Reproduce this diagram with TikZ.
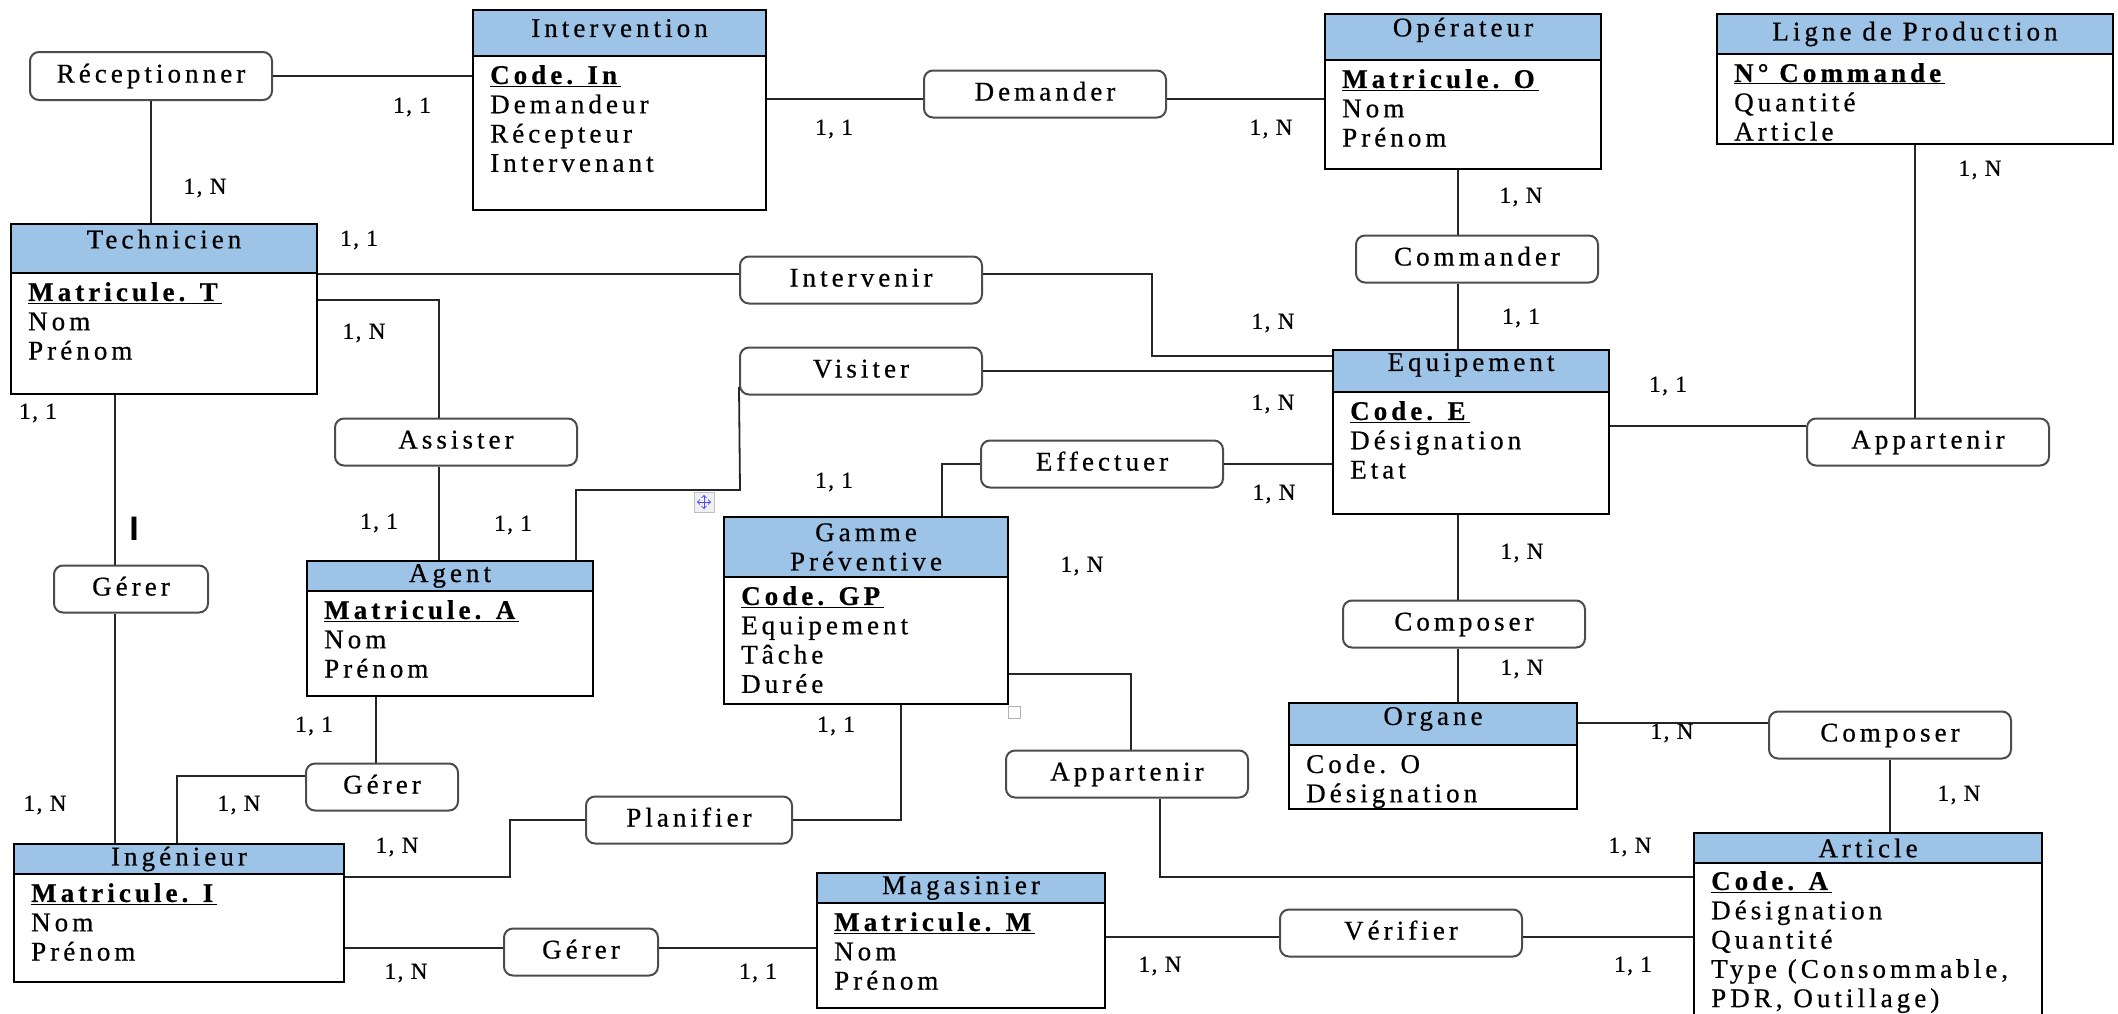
\documentclass[tikz,border=0pt]{standalone}
\usepackage{fontspec}
\setmainfont{Liberation Serif}[LetterSpace=15, FakeBold=0.6]
\newfontfamily\cardface{Liberation Serif}[LetterSpace=7, FakeBold=0.6]
\newfontfamily\marksans{Liberation Sans}
\usepackage{tikz}
\definecolor{headblue}{RGB}{157,195,230}
\newcommand{\ident}[1]{\underline{\textbf{#1}}}
\newcommand{\bodyfont}{\fontsize{27}{29.3}\selectfont}
\newcommand{\cardfont}{\cardface\fontsize{23}{25}\selectfont}
\tikzstyle{ent} = [draw, line width=2pt, anchor=north west, inner sep=0pt]
\tikzstyle{head} = [draw, line width=2pt, fill=headblue, anchor=north west, inner sep=0pt, align=center]
\tikzstyle{attr} = [anchor=north west, inner sep=0pt, align=left]
\tikzstyle{rel} = [draw=black!70, line width=2pt, rounded corners=9pt, fill=white, minimum width=242pt, minimum height=47pt, inner sep=0pt, text height=18pt, text depth=5pt]
\tikzstyle{card} = [font=\cardfont, inner sep=0pt]
\tikzstyle{link} = [line width=1.8pt, black!85]

\begin{document}
\begin{tikzpicture}[x=1pt, y=-1pt, font=\bodyfont]
	  \useasboundingbox (0,0) rectangle (2118,1013);
	  \fill[white] (0,0) rectangle (2118,1013);

	  \node[ent, minimum width=293pt, minimum height=200pt] (inter) at (472,9) {};
	  \node[head, minimum width=293pt, minimum height=46pt, text depth=10pt] (inter-h) at (inter.north west) {Intervention};
	  \node[attr] (inter-a) at ([xshift=18pt,yshift=-8pt]inter-h.south west) {\ident{Code. In}\\Demandeur\\Récepteur\\Intervenant};

	  \node[ent, minimum width=276pt, minimum height=155pt] (oper) at (1324,13) {};
	  \node[head, minimum width=276pt, minimum height=46pt, text depth=20pt] (oper-h) at (oper.north west) {Opérateur};
	  \node[attr] (oper-a) at ([xshift=18pt,yshift=-8pt]oper-h.south west) {\ident{Matricule. O}\\Nom\\Prénom};

	  \node[ent, minimum width=396pt, minimum height=130pt] (ligne) at (1716,13) {};
	  \node[head, minimum width=396pt, minimum height=40pt] (ligne-h) at (ligne.north west) {Ligne de Production};
	  \node[attr] (ligne-a) at ([xshift=18pt,yshift=-8pt]ligne-h.south west) {\ident{N° Commande}\\Quantité\\Article};

	  \node[ent, minimum width=306pt, minimum height=170pt] (techn) at (10,223) {};
	  \node[head, minimum width=306pt, minimum height=49pt, text depth=19pt] (techn-h) at (techn.north west) {Technicien};
	  \node[attr] (techn-a) at ([xshift=18pt,yshift=-8pt]techn-h.south west) {\ident{Matricule. T}\\Nom\\Prénom};

	  \node[ent, minimum width=276pt, minimum height=164pt] (equip) at (1332,349) {};
	  \node[head, minimum width=276pt, minimum height=42pt, text depth=18pt] (equip-h) at (equip.north west) {Equipement};
	  \node[attr] (equip-a) at ([xshift=18pt,yshift=-8pt]equip-h.south west) {\ident{Code. E}\\Désignation\\Etat};

	  \node[ent, minimum width=284pt, minimum height=187pt] (gamme) at (723,516) {};
	  \node[head, minimum width=284pt, minimum height=60pt] (gamme-h) at (gamme.north west) {Gamme\\Préventive};
	  \node[attr] (gamme-a) at ([xshift=18pt,yshift=-8pt]gamme-h.south west) {\ident{Code. GP}\\Equipement\\Tâche\\Durée};

	  \node[ent, minimum width=286pt, minimum height=135pt] (agent) at (306,560) {};
	  \node[head, minimum width=286pt, minimum height=30pt] (agent-h) at (agent.north west) {Agent};
	  \node[attr] (agent-a) at ([xshift=18pt,yshift=-8pt]agent-h.south west) {\ident{Matricule. A}\\Nom\\Prénom};

	  \node[ent, minimum width=288pt, minimum height=106pt] (organe) at (1288,702) {};
	  \node[head, minimum width=288pt, minimum height=42pt, text depth=16pt] (organe-h) at (organe.north west) {Organe};
	  \node[attr] (organe-a) at ([xshift=18pt,yshift=-8pt]organe-h.south west) {Code. O\\Désignation};

	  \node[ent, minimum width=348pt, minimum height=200pt] (article) at (1693,832) {};
	  \node[head, minimum width=348pt, minimum height=30pt] (article-h) at (article.north west) {Article};
	  \node[attr] (article-a) at ([xshift=18pt,yshift=-7pt]article-h.south west) {\ident{Code. A}\\Désignation\\Quantité\\Type (Consommable,\\PDR, Outillage)};

	  \node[ent, minimum width=330pt, minimum height=138pt] (ingen) at (13,843) {};
	  \node[head, minimum width=330pt, minimum height=30pt] (ingen-h) at (ingen.north west) {Ingénieur};
	  \node[attr] (ingen-a) at ([xshift=18pt,yshift=-8pt]ingen-h.south west) {\ident{Matricule. I}\\Nom\\Prénom};

	  \node[ent, minimum width=288pt, minimum height=135pt] (magas) at (816,872) {};
	  \node[head, minimum width=288pt, minimum height=30pt] (magas-h) at (magas.north west) {Magasinier};
	  \node[attr] (magas-a) at ([xshift=18pt,yshift=-8pt]magas-h.south west) {\ident{Matricule. M}\\Nom\\Prénom};

	  \node[rel, minimum height=48pt] (recep) at (151,76) {Réceptionner};
	  \node[rel] (deman) at (1045,94) {Demander};
	  \node[rel] (comma) at (1477,259) {Commander};
	  \node[rel] (interv) at (861,280) {Intervenir};
	  \node[rel] (visit) at (861,371) {Visiter};
	  \node[rel] (assis) at (456,442) {Assister};
	  \node[rel] (effec) at (1102,464) {Effectuer};
	  \node[rel] (appR) at (1928,442) {Appartenir};
	  \node[rel, minimum width=154pt] (gererL) at (131,589) {Gérer};
	  \node[rel] (compM) at (1464,624) {Composer};
	  \node[rel] (compR) at (1890,735) {Composer};
	  \node[rel, minimum width=152pt] (gererM) at (382,787) {Gérer};
	  \node[rel] (appM) at (1127,774) {Appartenir};
	  \node[rel, minimum width=206pt] (plani) at (689,820) {Planifier};
	  \node[rel, minimum width=154pt] (gererB) at (581,952) {Gérer};
	  \node[rel] (verif) at (1401,933) {Vérifier};

	  \coordinate (spine) at (1458,300);
	  \coordinate (dm) at (1000,99);
	  \coordinate (eq-ap) at (1700,426);
	  \coordinate (t-i) at (500,274);
	  \coordinate (i-e) at (1152,356);
	  \coordinate (v-a) at (740,490);
	  \coordinate (v-a2) at (576,490);
	  \coordinate (t-a) at (439,300);
	  \coordinate (e-g) at (942,464);
	  \coordinate (gl) at (115,500);
	  \coordinate (am) at (376,730);
	  \coordinate (gi) at (177,776);
	  \coordinate (ip) at (510,877);
	  \coordinate (pg) at (901,820);
	  \coordinate (ga) at (1131,674);
	  \coordinate (aa) at (1160,877);
	  \coordinate (oc) at (1650,723);
	  \coordinate (gb) at (600,948);
	  \coordinate (va) at (1600,937);

	  \draw[link] (recep) -- (recep -| inter.west);
	  \draw[link] (recep) -- (recep |- techn.north);
	  \draw[link] (dm -| inter.east) -- (dm -| deman.west);
	  \draw[link] (dm -| deman.east) -- (dm -| oper.west);
	  \draw[link] (spine |- oper.south) -- (spine |- comma.north);
	  \draw[link] (spine |- comma.south) -- (spine |- equip.north);
	  \draw[link] (ligne.south) -- (ligne.south |- appR.north);
	  \draw[link] (eq-ap -| equip.east) -- (eq-ap -| appR.west);
	  \draw[link] (t-i -| techn.east) -- (t-i -| interv.west);
	  \draw[link] (interv.east |- t-i) -| (i-e) -- (i-e -| equip.west);
	  \draw[link] (visit) -- (visit -| equip.west);
	  \draw[link] ([yshift=-16pt]visit.west) -- (v-a) -- (v-a2) -- (v-a2 |- agent.north);
	  \draw[link] (t-a -| techn.east) -- (t-a) -- (t-a |- assis.north);
	  \draw[link] (t-a |- assis.south) -- (t-a |- agent.north);
	  \draw[link] (effec) -- (effec -| equip.west);
	  \draw[link] (effec.west) -- (e-g) -- (e-g |- gamme.north);
	  \draw[link] (gl |- techn.south) -- (gl |- gererL.north);
	  \draw[link] (gl |- gererL.south) -- (gl |- ingen.north);
	  \draw[link] (am |- agent.south) -- (am |- gererM.north);
	  \draw[link] (gi -| gererM.west) -- (gi) -- (gi |- ingen.north);
	  \draw[link] (ip -| ingen.east) -- (ip) |- (plani.west);
	  \draw[link] (plani.east) -- (pg) -- (pg |- gamme.south);
	  \draw[link] (ga -| gamme.east) -- (ga) -- (ga |- appM.north);
	  \draw[link] (aa |- appM.south) -- (aa) -- (aa -| article.west);
	  \draw[link] (spine |- equip.south) -- (spine |- compM.north);
	  \draw[link] (spine |- compM.south) -- (spine |- organe.north);
	  \draw[link] (oc -| organe.east) -- (oc -| compR.west);
	  \draw[link] (compR.south) -- (compR.south |- article.north);
	  \draw[link] (gb -| ingen.east) -- (gb -| gererB.west);
	  \draw[link] (gb -| gererB.east) -- (gb -| magas.west);
	  \draw[link] (va -| magas.east) -- (va -| verif.west);
	  \draw[link] (va -| verif.east) -- (va -| article.west);

	  \node[card] (c1) at (412,107) {1, 1};
	  \node[card] (c2) at (205,188) {1, N};
	  \node[card] (c3) at (834,129) {1, 1};
	  \node[card] (c4) at (1271,129) {1, N};
	  \node[card] (c5) at (1521,197) {1, N};
	  \node[card] (c6) at (1521,318) {1, 1};
	  \node[card] (c7) at (1980,170) {1, N};
	  \node[card] (c8) at (1668,386) {1, 1};
	  \node[card] (c9) at (359,240) {1, 1};
	  \node[card] (c10) at (1273,323) {1, N};
	  \node[card] (c11) at (1273,404) {1, N};
	  \node[card] (c12) at (364,333) {1, N};
	  \node[card] (c13) at (379,523) {1, 1};
	  \node[card] (c14) at (513,525) {1, 1};
	  \node[card] (c15) at (834,482) {1, 1};
	  \node[card] (c16) at (1274,494) {1, N};
	  \node[card] (c17) at (1082,566) {1, N};
	  \node[card] (c18) at (38,413) {1, 1};
	  \node[card] (c19) at (45,805) {1, N};
	  \node[card] (c20) at (314,726) {1, 1};
	  \node[card] (c21) at (239,805) {1, N};
	  \node[card] (c22) at (397,847) {1, N};
	  \node[card] (c23) at (836,726) {1, 1};
	  \node[card] (c24) at (1522,553) {1, N};
	  \node[card] (c25) at (1522,669) {1, N};
	  \node[card] (c26) at (1672,733) {1, N};
	  \node[card] (c27) at (1959,795) {1, N};
	  \node[card] (c28) at (1630,847) {1, N};
	  \node[card] (c29) at (406,973) {1, N};
	  \node[card] (c30) at (758,973) {1, 1};
	  \node[card] (c31) at (1160,966) {1, N};
	  \node[card] (c32) at (1633,966) {1, 1};

	  \node[font=\fontsize{34}{34}\marksans\bfseries, inner sep=0pt] (caret) at (134,529) {I};
	  \node[draw=gray!50, fill=gray!12, line width=0.8pt, minimum size=20pt, inner sep=0pt] (movegrip) at (704,502) {};
	  \draw[<->, blue!70, line width=1pt] ([xshift=-7pt]movegrip.center) -- ([xshift=7pt]movegrip.center);
	  \draw[<->, blue!70, line width=1pt] ([yshift=-7pt]movegrip.center) -- ([yshift=7pt]movegrip.center);
	  \node[draw=gray!60, fill=white, line width=1pt, minimum size=12pt, inner sep=0pt] (sizegrip) at (1014,712) {};
\end{tikzpicture}
\end{document}
